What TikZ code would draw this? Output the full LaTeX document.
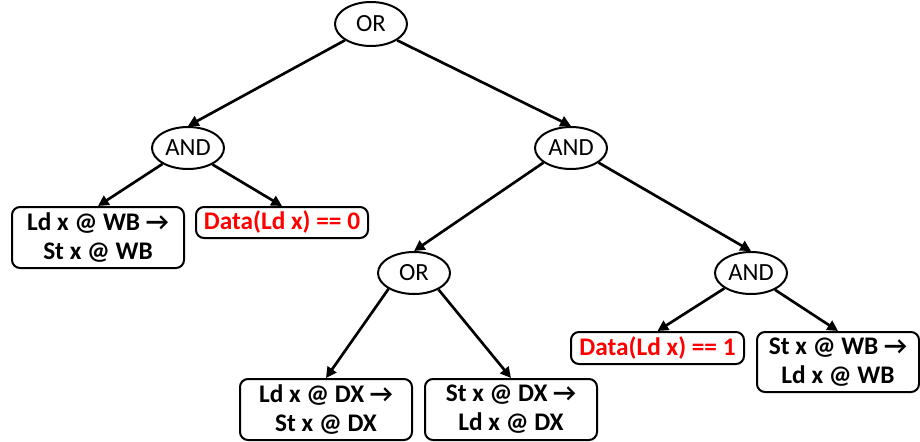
\documentclass[tikz,border=0pt]{standalone}
\usepackage{fontspec}
\setmainfont{Carlito}
\usetikzlibrary{arrows.meta,shapes.geometric}
\begin{document}
\begin{tikzpicture}[x=0.75pt,y=-0.75pt,
  gate/.style={ellipse,draw,line width=1.5pt,inner sep=0pt,
    minimum width=54pt,minimum height=31.5pt,
    font=\fontsize{18.5}{20}\selectfont},
  leaf/.style={rectangle,rounded corners=6pt,draw,line width=1.5pt,
    inner sep=0pt,align=center,minimum width=129pt,
    font=\fontsize{19}{21.75}\selectfont\bfseries},
  cond/.style={leaf,text=red,minimum height=23.25pt},
  pair/.style={leaf,minimum height=45.75pt},
  edge/.style={line width=2pt,-{Triangle[length=8pt,width=8pt]}}
]
\useasboundingbox (0,0) rectangle (920,442);

% gates
\node[gate,minimum height=33pt] (root) at (371,24) {OR};
\node[gate] (andL) at (188,148) {AND};
\node[gate] (andR) at (571,148) {AND};
\node[gate] (orM)  at (414,273) {OR};
\node[gate] (andB) at (751,273) {AND};

% leaves
\node[pair] (ldwb) at (98,237.5) {Ld x @ WB →\\St x @ WB};
\node[cond] (d0)   at (282,222.5) {Data(Ld x) == 0};
\node[pair] (lddx) at (326,409.5) {Ld x @ DX →\\St x @ DX};
\node[pair] (stdx) at (511,409.5) {St x @ DX →\\Ld x @ DX};
\node[cond,minimum width=129.75pt,minimum height=24pt] (d1) at (657.5,348) {Data(Ld x) == 1};
\node[pair,minimum width=121.5pt,minimum height=45pt] (stwb) at (838,362) {St x @ WB →\\Ld x @ WB};

% connectors
\draw[edge] (root.212) -- (andL.north);
\draw[edge] (root.328) -- (andR.north);
\draw[edge] (andL.212) -- (ldwb.north);
\draw[edge] (andL.326) -- (d0.north);
\draw[edge] (andR.208) -- (orM.north);
\draw[edge] (andR.332) -- (andB.north);
\draw[edge] (orM.212) -- (lddx.north);
\draw[edge] (orM.326) -- (stdx.north);
\draw[edge] (andB.210) -- (d1.north);
\draw[edge] (andB.325) -- (stwb.north);
\end{tikzpicture}
\end{document}
